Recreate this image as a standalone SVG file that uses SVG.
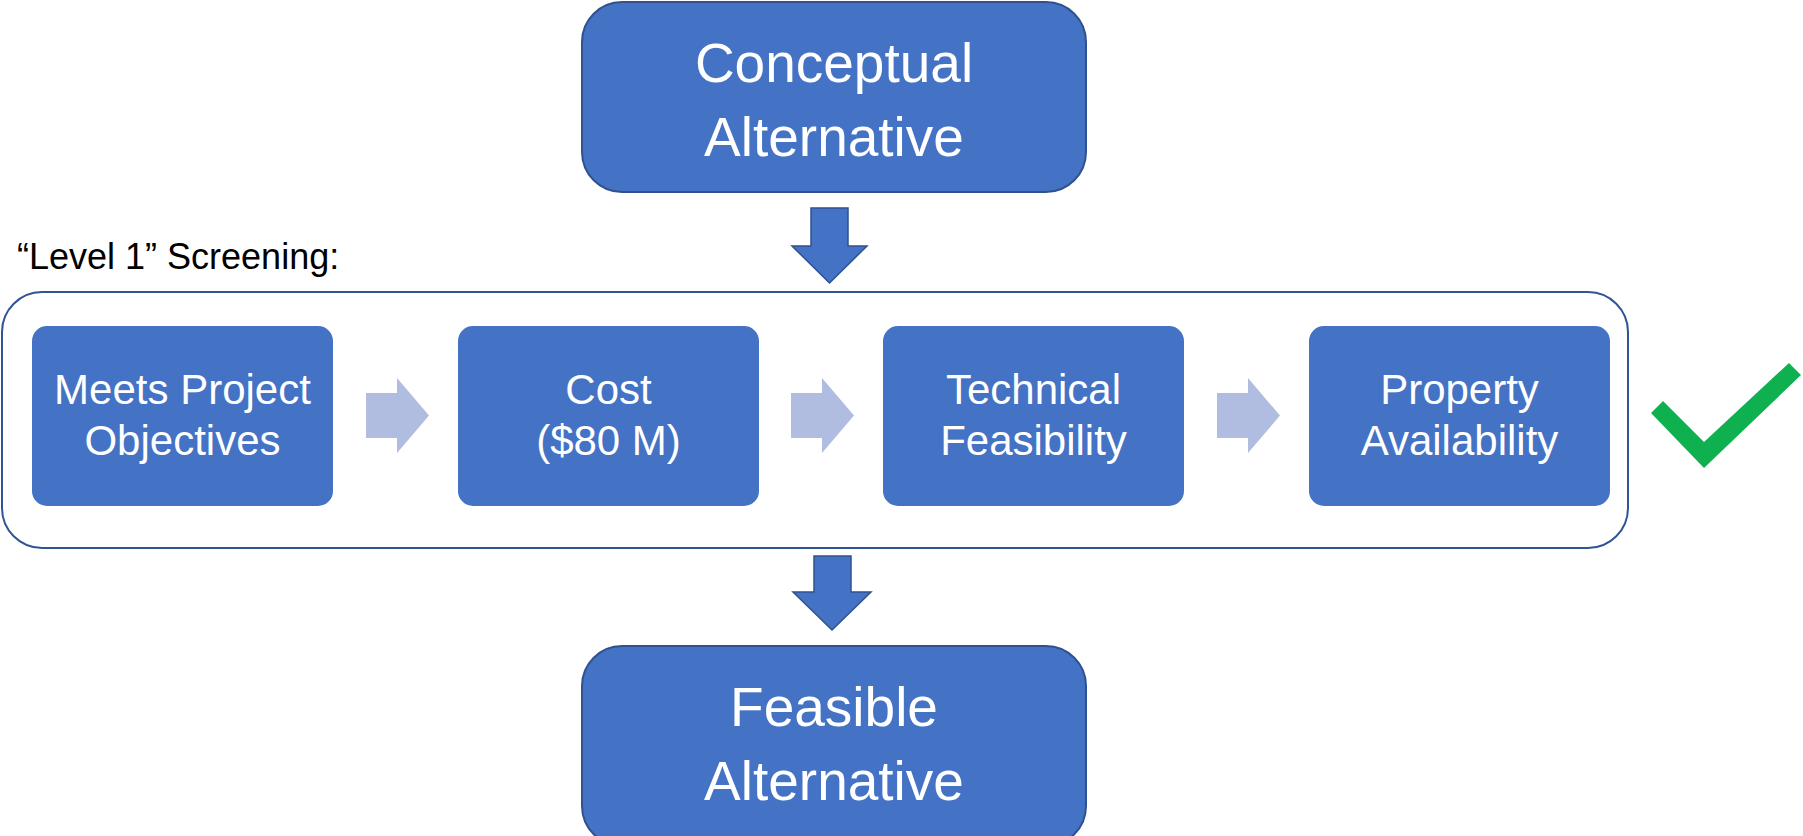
<svg xmlns="http://www.w3.org/2000/svg" width="1803" height="836" viewBox="0 0 1803 836">
  <defs>
    <style>
      .big { fill: #4472C4; stroke: #2F528F; stroke-width: 2; }
      .step { fill: #4472C4; }
      .down { fill: #4472C4; stroke: #2F528F; stroke-width: 1.5; stroke-linejoin: miter; }
      .next { fill: #B0BDE0; }
      .frame { fill: #FFFFFF; stroke: #2F5597; stroke-width: 2; }
      .t-big { font-family: "Liberation Sans", Arial, sans-serif; font-size: 55px; fill: #FFFFFF; text-anchor: middle; }
      .t-step { font-family: "Liberation Sans", Arial, sans-serif; font-size: 42px; fill: #FFFFFF; text-anchor: middle; }
      .t-label { font-family: "Liberation Sans", Arial, sans-serif; font-size: 36px; fill: #000000; }
    </style>
  </defs>

  <rect width="1803" height="836" fill="#FFFFFF"/>

  <!-- screening frame -->
  <g id="screening">
    <rect class="frame" x="2" y="292" width="1626" height="256" rx="40" ry="40"/>
    <text class="t-label" x="17" y="269">“Level 1” Screening:</text>
  </g>

  <g id="conceptual">
    <rect class="big" x="582" y="2" width="504" height="190" rx="40" ry="40"/>
    <text class="t-big" x="834" y="82">Conceptual</text>
    <text class="t-big" x="834" y="156">Alternative</text>
  </g>

  <g id="objectives">
    <rect class="step" x="32" y="326" width="301" height="180" rx="15" ry="15"/>
    <text class="t-step" x="182.5" y="404">Meets Project</text>
    <text class="t-step" x="182.5" y="455">Objectives</text>
  </g>

  <g id="cost">
    <rect class="step" x="458" y="326" width="301" height="180" rx="15" ry="15"/>
    <text class="t-step" x="608.5" y="404">Cost</text>
    <text class="t-step" x="608.5" y="455">($80 M)</text>
  </g>

  <g id="technical">
    <rect class="step" x="883" y="326" width="301" height="180" rx="15" ry="15"/>
    <text class="t-step" x="1033.5" y="404">Technical</text>
    <text class="t-step" x="1033.5" y="455">Feasibility</text>
  </g>

  <g id="property">
    <rect class="step" x="1309" y="326" width="301" height="180" rx="15" ry="15"/>
    <text class="t-step" x="1459.5" y="404">Property</text>
    <text class="t-step" x="1459.5" y="455">Availability</text>
  </g>

  <g id="feasible">
    <rect class="big" x="582" y="646" width="504" height="200" rx="40" ry="40"/>
    <text class="t-big" x="834" y="726">Feasible</text>
    <text class="t-big" x="834" y="800">Alternative</text>
  </g>

  <g id="check">
    <polygon fill="#0FB050" points="1651,413 1663,401 1704,442 1789,363 1801,375 1704,468"/>
  </g>

  <!-- connectors -->
  <g id="connectors">
    <polygon class="down" points="811,208 848,208 848,246 867,246 829.5,283 792,246 811,246"/>
    <polygon class="down" points="814,556 851,556 851,592 871,592 832,630 793,592 814,592"/>
    <polygon class="next" points="366,393 397,393 397,378 429,415.5 397,453 397,438 366,438"/>
    <polygon class="next" points="791,393 822,393 822,378 854,415.5 822,453 822,438 791,438"/>
    <polygon class="next" points="1217,393 1248,393 1248,378 1280,415.5 1248,453 1248,438 1217,438"/>
  </g>
</svg>
